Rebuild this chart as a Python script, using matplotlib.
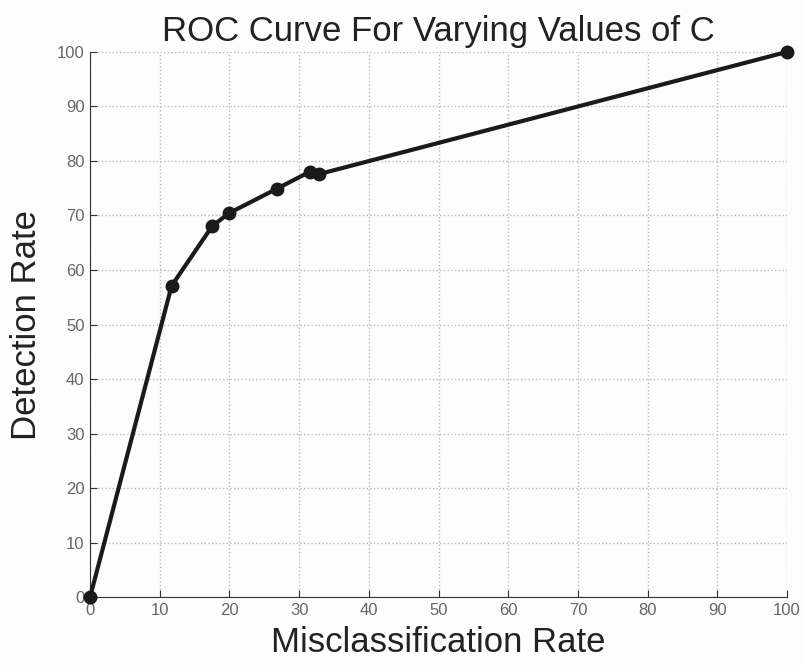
import numpy as np
import matplotlib.pyplot as plt

plt.rcParams['font.family'] = ['Liberation Sans', 'DejaVu Sans']

misclass = [0, 11.7, 17.5, 19.9, 26.8, 31.5, 32.9, 100]
detection = [0, 57.1, 68.0, 70.4, 74.9, 78.0, 77.6, 100]

fig = plt.figure(figsize=(8.04, 6.65), dpi=100)
fig.patch.set_facecolor('#fdfdfd')
ax = fig.add_axes([0.112, 0.102, 0.867, 0.82])
ax.set_facecolor('#fdfdfd')

ax.plot(misclass, detection, color='#1a1a1a', lw=3, marker='o', ms=9,
        markerfacecolor='#1a1a1a', markeredgecolor='#1a1a1a', clip_on=False, zorder=3)

ax.set_xlim(0, 100)
ax.set_ylim(0, 100)
ax.set_xticks(np.arange(0, 101, 10))
ax.set_yticks(np.arange(0, 101, 10))
ax.grid(True, linestyle=':', color='#bbbbbb', lw=1)
ax.spines['top'].set_visible(False)
ax.spines['right'].set_visible(False)
ax.spines['left'].set_color('#333333')
ax.spines['bottom'].set_color('#333333')
ax.tick_params(direction='in', length=5, colors='#333333', labelcolor='#666666', labelsize=12, pad=4)

ax.set_title('ROC Curve For Varying Values of C', fontsize=25, color='#222222', pad=8)
ax.set_xlabel('Misclassification Rate', fontsize=25, color='#222222', labelpad=6)
ax.set_ylabel('Detection Rate', fontsize=25, color='#222222', labelpad=10)

fig.savefig('out.png', dpi=100, facecolor=fig.get_facecolor())
